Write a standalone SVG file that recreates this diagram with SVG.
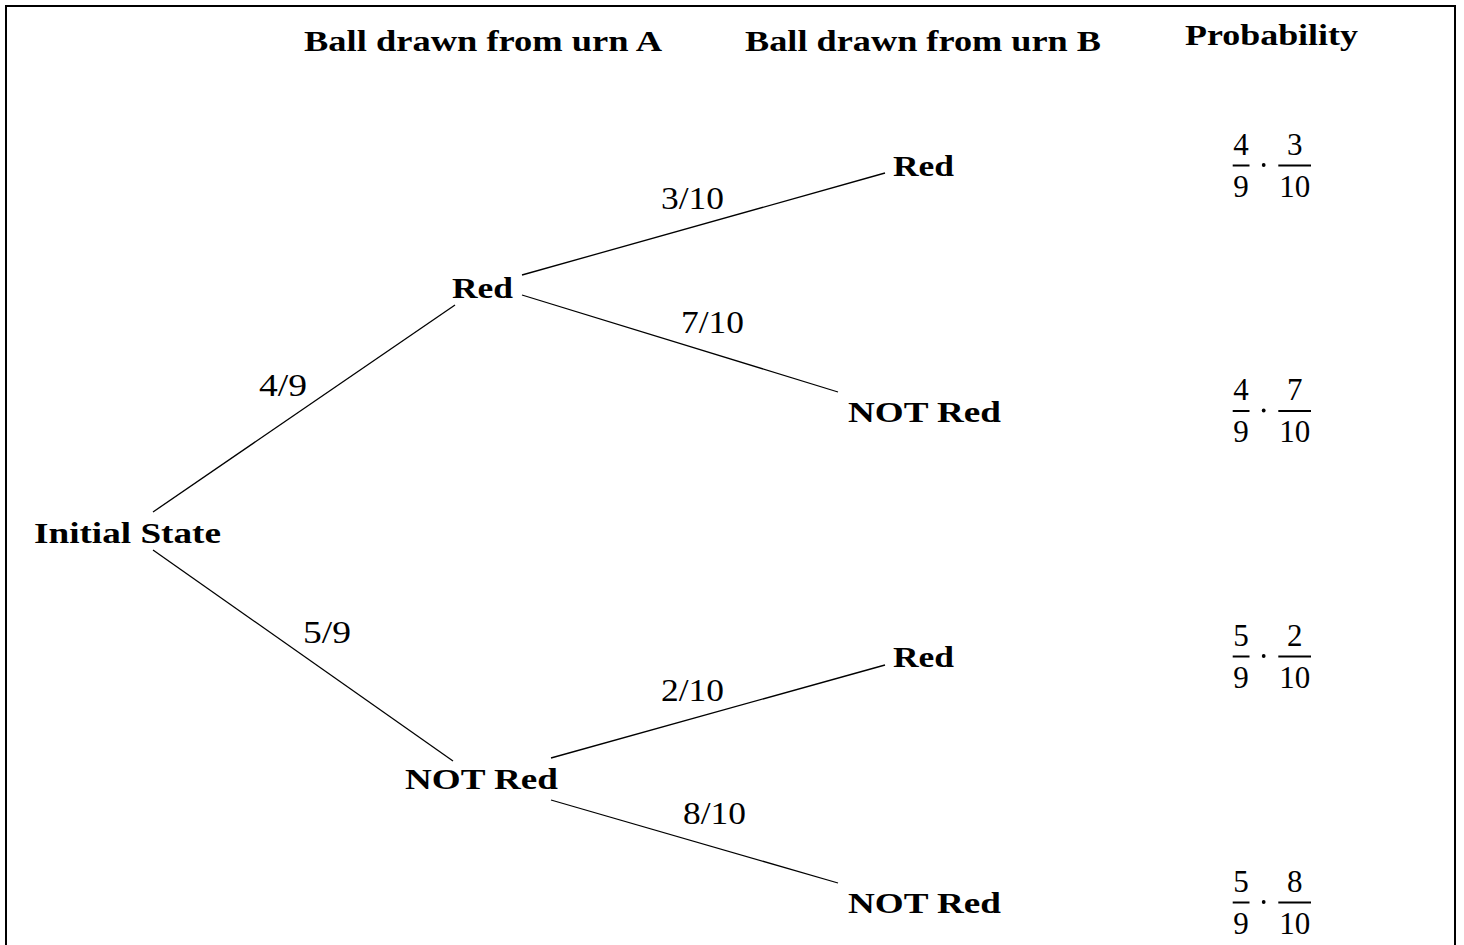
<svg xmlns="http://www.w3.org/2000/svg" width="1464" height="945" viewBox="0 0 1464 945">
  <style>
    .bf { font-family: "Liberation Serif", "DejaVu Serif", serif; font-weight: bold; font-size: 30px; fill: #000; }
    .rm { font-family: "Liberation Serif", "DejaVu Serif", serif; font-size: 31px; fill: #000; }
    .num { font-family: "Liberation Serif", "DejaVu Serif", serif; font-size: 31px; fill: #000; text-anchor: middle; }
    .edge { stroke: #000; stroke-width: 1.3; fill: none; }
    .bar { stroke: #000; stroke-width: 2; }
    .frame { stroke: #000; stroke-width: 2; fill: none; }
  </style>
  <defs>
    <!-- centred multiplication dot between the two fractions -->
    <g id="dotc"><circle cx="1263.7" cy="-0.5" r="1.9" fill="#000"/></g>
  </defs>

  <rect width="1464" height="945" fill="#fff"/>
  <path class="frame" d="M6,945 V6 H1455 V945"/>

  <!-- column headers -->
  <g id="headers">
    <text class="bf" x="304" y="51" textLength="358" lengthAdjust="spacingAndGlyphs">Ball drawn from urn A</text>
    <text class="bf" x="745" y="51" textLength="356" lengthAdjust="spacingAndGlyphs">Ball drawn from urn B</text>
    <text class="bf" x="1185" y="45" textLength="173" lengthAdjust="spacingAndGlyphs">Probability</text>
  </g>

  <!-- branches -->
  <g id="connectors">
    <line class="edge" x1="153" y1="512" x2="455" y2="305"/>
    <line class="edge" x1="153" y1="550" x2="453" y2="761"/>
    <line class="edge" x1="522" y1="275" x2="885" y2="173"/>
    <line class="edge" x1="522" y1="295" x2="838" y2="392"/>
    <line class="edge" x1="551" y1="758" x2="885" y2="665"/>
    <line class="edge" x1="551" y1="800" x2="838" y2="883"/>
  </g>

  <!-- branch probabilities -->
  <g id="edge-labels">
    <text class="rm" x="259" y="396" textLength="48" lengthAdjust="spacingAndGlyphs">4/9</text>
    <text class="rm" x="303" y="643" textLength="48" lengthAdjust="spacingAndGlyphs">5/9</text>
    <text class="rm" x="661" y="209" textLength="63" lengthAdjust="spacingAndGlyphs">3/10</text>
    <text class="rm" x="681" y="333" textLength="63" lengthAdjust="spacingAndGlyphs">7/10</text>
    <text class="rm" x="661" y="701" textLength="63" lengthAdjust="spacingAndGlyphs">2/10</text>
    <text class="rm" x="683" y="824" textLength="63" lengthAdjust="spacingAndGlyphs">8/10</text>
  </g>

  <!-- tree nodes -->
  <g id="node-initial">
    <text class="bf" x="34" y="543" textLength="187" lengthAdjust="spacingAndGlyphs">Initial State</text>
  </g>
  <g id="node-a-red">
    <text class="bf" x="452" y="298" textLength="61" lengthAdjust="spacingAndGlyphs">Red</text>
  </g>
  <g id="node-a-notred">
    <text class="bf" x="405" y="789" textLength="153" lengthAdjust="spacingAndGlyphs">NOT Red</text>
  </g>
  <g id="node-b-red-1">
    <text class="bf" x="893" y="176" textLength="61" lengthAdjust="spacingAndGlyphs">Red</text>
  </g>
  <g id="node-b-notred-1">
    <text class="bf" x="848" y="422" textLength="153" lengthAdjust="spacingAndGlyphs">NOT Red</text>
  </g>
  <g id="node-b-red-2">
    <text class="bf" x="893" y="667" textLength="61" lengthAdjust="spacingAndGlyphs">Red</text>
  </g>
  <g id="node-b-notred-2">
    <text class="bf" x="848" y="913" textLength="153" lengthAdjust="spacingAndGlyphs">NOT Red</text>
  </g>

  <!-- outcome probabilities -->
  <g id="prob-1" transform="translate(0,165.5)">
    <text class="num" x="1241" y="-11">4</text>
    <line class="bar" x1="1232.7" y1="0" x2="1249.5" y2="0"/>
    <text class="num" x="1241" y="31">9</text>
    <use href="#dotc"/>
    <text class="num" x="1294.7" y="-11">3</text>
    <line class="bar" x1="1278.3" y1="0" x2="1311" y2="0"/>
    <text class="num" x="1294.7" y="31">10</text>
  </g>
  <g id="prob-2" transform="translate(0,411)">
    <text class="num" x="1241" y="-11">4</text>
    <line class="bar" x1="1232.7" y1="0" x2="1249.5" y2="0"/>
    <text class="num" x="1241" y="31">9</text>
    <use href="#dotc"/>
    <text class="num" x="1294.7" y="-11">7</text>
    <line class="bar" x1="1278.3" y1="0" x2="1311" y2="0"/>
    <text class="num" x="1294.7" y="31">10</text>
  </g>
  <g id="prob-3" transform="translate(0,656.5)">
    <text class="num" x="1241" y="-11">5</text>
    <line class="bar" x1="1232.7" y1="0" x2="1249.5" y2="0"/>
    <text class="num" x="1241" y="31">9</text>
    <use href="#dotc"/>
    <text class="num" x="1294.7" y="-11">2</text>
    <line class="bar" x1="1278.3" y1="0" x2="1311" y2="0"/>
    <text class="num" x="1294.7" y="31">10</text>
  </g>
  <g id="prob-4" transform="translate(0,902.5)">
    <text class="num" x="1241" y="-11">5</text>
    <line class="bar" x1="1232.7" y1="0" x2="1249.5" y2="0"/>
    <text class="num" x="1241" y="31">9</text>
    <use href="#dotc"/>
    <text class="num" x="1294.7" y="-11">8</text>
    <line class="bar" x1="1278.3" y1="0" x2="1311" y2="0"/>
    <text class="num" x="1294.7" y="31">10</text>
  </g>
</svg>
